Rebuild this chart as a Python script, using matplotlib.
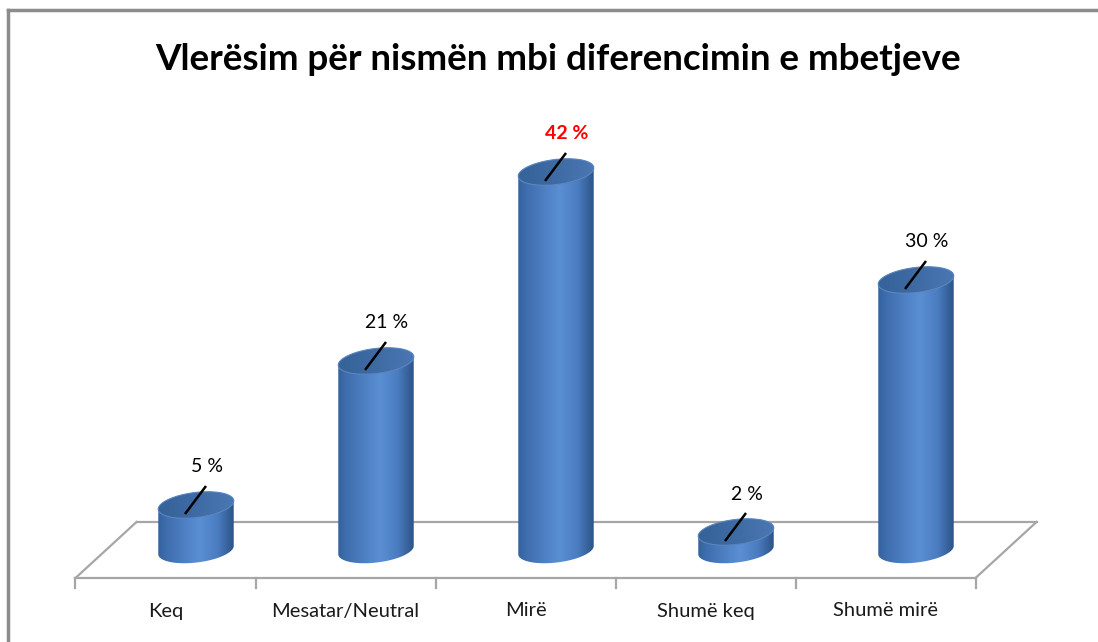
import numpy as np
import matplotlib
matplotlib.use("Agg")
import matplotlib.pyplot as plt
from matplotlib.path import Path
from matplotlib.patches import PathPatch, Polygon
from matplotlib.colors import LinearSegmentedColormap
from matplotlib.lines import Line2D

# ---- data ----
categories = ["Keq", "Mesatar/Neutral", "Mirë", "Shumë keq", "Shumë mirë"]
values = [5, 21, 42, 2, 30]
value_labels = ["5 %", "21 %", "42 %", "2 %", "30 %"]
label_colors = ["black", "black", "red", "black", "black"]
label_weights = ["normal", "normal", "bold", "normal", "normal"]
title = "Vlerësim për nismën mbi diferencimin e mbetjeve"

FONT = ["Lato", "DejaVu Sans"]

W, H = 1098, 642
fig = plt.figure(figsize=(W / 100, H / 100), dpi=100)
fig.patch.set_facecolor("white")

# axes: x = category index, y = percent
YMIN, YMAX = -10, 50
PX_Y = 9.0                     # pixels per percent
ax_h = (YMAX - YMIN) * PX_Y
ax_bottom = (H - 550) - (0 - YMIN) * PX_Y
ax = fig.add_axes([106 / W, ax_bottom / H, 900 / W, ax_h / H])
ax.set_xlim(-0.5, len(categories) - 0.5)
ax.set_ylim(YMIN, YMAX)
ax.axis("off")

PX_X = 900 / len(categories)   # pixels per x unit

def px(dx, dy):
    return dx / PX_X, dy / PX_Y

# depth (half) offset in pixels
DEP_X, DEP_Y = 30.5, 28.0
ddx, ddy = px(DEP_X, DEP_Y)

# ---- floor ----
n = len(categories)
fl = dict(color="#a6a6a6", lw=1.6, clip_on=False, zorder=1)
x0f, x1f = -0.5 - ddx, n - 0.5 - ddx
ax.plot([x0f, x1f], [-ddy, -ddy], **fl)
ax.plot([x0f + 2 * ddx, x1f + 2 * ddx], [ddy, ddy], **fl)
ax.plot([x0f, x0f + 2 * ddx], [-ddy, ddy], **fl)
ax.plot([x1f, x1f + 2 * ddx], [-ddy, ddy], **fl)
tick_len = px(0, 10)[1]
for k in range(n + 1):
    xt = k - 0.5 - ddx
    ax.plot([xt, xt], [-ddy, -ddy - tick_len], **fl)

for i, c in enumerate(categories):
    ax.text(i - ddx, -ddy - px(0, 33)[1], c, ha="center", va="center",
            fontsize=14.5, family=FONT, color="#1a1a1a", clip_on=False)

# ---- cylinders ----
cmap_body = LinearSegmentedColormap.from_list(
    "body", [(0.0, "#325f9c"), (0.12, "#3f6eae"), (0.55, "#5a8fd4"),
             (0.78, "#4a7cc0"), (1.0, "#2b5183")])
cmap_top = LinearSegmentedColormap.from_list(
    "top", [(0.0, "#36629a"), (0.5, "#3f6ba4"), (1.0, "#4a78b3")])

A, B = 38.0, 12.5          # ellipse semi-axes in pixels
ROT = np.deg2rad(7)

def ell_pts(cx, cy, t):
    ex = A * np.cos(t)
    ey = B * np.sin(t)
    rx = ex * np.cos(ROT) - ey * np.sin(ROT)
    ry = ex * np.sin(ROT) + ey * np.cos(ROT)
    return np.column_stack([cx + rx / PX_X, cy + ry / PX_Y])

grad = np.linspace(0, 1, 256).reshape(1, -1)
for i, v in enumerate(values):
    cx = i
    top_up = ell_pts(cx, v, np.linspace(0, np.pi, 60))
    bot_low = ell_pts(cx, 0, np.linspace(np.pi, 2 * np.pi, 60))
    verts = np.vstack([top_up, bot_low, top_up[:1]])
    codes = [Path.MOVETO] + [Path.LINETO] * (len(verts) - 2) + [Path.CLOSEPOLY]
    body = PathPatch(Path(verts, codes), facecolor="none", edgecolor="none")
    ax.add_patch(body)
    hw = A / PX_X * 1.02
    im = ax.imshow(grad, cmap=cmap_body, aspect="auto",
                   extent=[cx - hw, cx + hw, -3, v + 3], zorder=3,
                   interpolation="bilinear")
    im.set_clip_path(body)
    # top face
    tv = ell_pts(cx, v, np.linspace(0, 2 * np.pi, 120))
    top = Polygon(tv, closed=True, facecolor="none", edgecolor="#5b86bf",
                  lw=0.8, zorder=4)
    ax.add_patch(top)
    im2 = ax.imshow(grad, cmap=cmap_top, aspect="auto",
                    extent=[cx - hw, cx + hw, v - 3, v + 3], zorder=3.5,
                    interpolation="bilinear")
    im2.set_clip_path(top)

    # leader line and value label
    sx, sy = px(-11, -9)
    ex_, ey_ = px(21, 28)
    x_s, y_s = cx + sx, v + sy
    ax.plot([x_s, x_s + ex_], [y_s, y_s + ey_], color="black", lw=1.8,
            zorder=5, clip_on=False, solid_capstyle="butt")
    ax.text(x_s + ex_ + px(1, 0)[0], y_s + ey_ + px(0, 19)[1], value_labels[i],
            ha="center", va="center", fontsize=14, family=FONT,
            color=label_colors[i], fontweight=label_weights[i], zorder=6,
            clip_on=False)

# ---- title ----
fig.text(558 / W, 1 - 60 / H, title, ha="center", va="center",
         fontsize=26.5, fontweight="bold", family=FONT, color="black")

# ---- frame ----
fc = "#8c8c8c"
fig.add_artist(Line2D([7.5 / W, 1.0], [1 - 10 / H, 1 - 10 / H], color=fc, lw=2.5,
                      transform=fig.transFigure))
fig.add_artist(Line2D([7.5 / W, 7.5 / W], [0, 1 - 10 / H], color=fc, lw=2.5,
                      transform=fig.transFigure))

fig.savefig("out.png", dpi=100, facecolor="white")
